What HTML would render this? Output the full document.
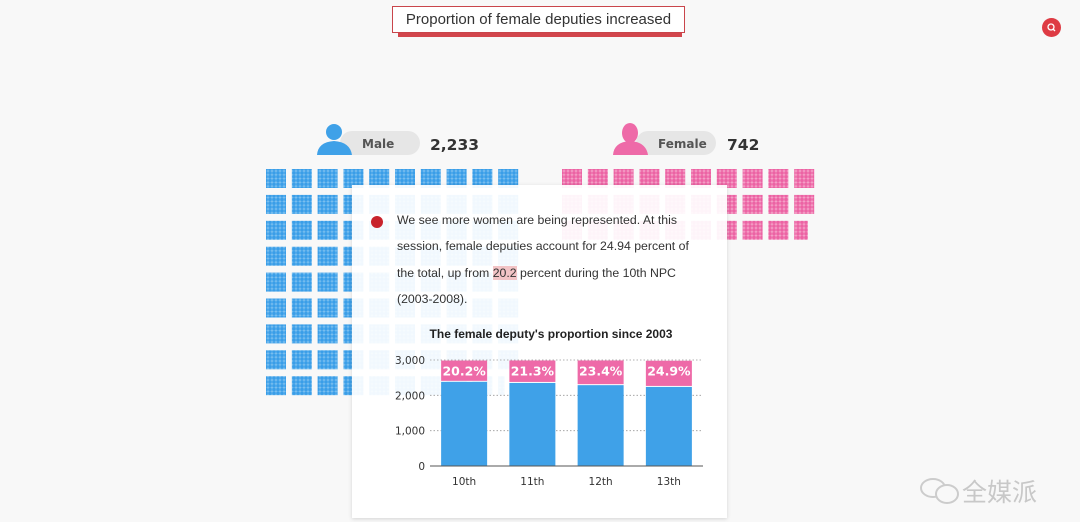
<!DOCTYPE html>
<html><head><meta charset="utf-8">
<style>
body{margin:0;width:1080px;height:522px;background:#f8f8f8;overflow:hidden;position:relative;font-family:"Liberation Sans",sans-serif;}
.abs{position:absolute}
</style></head>
<body>
<div class="abs" style="left:398px;top:31px;width:284px;height:6px;background:#d2464c"></div>
<div class="abs" style="left:392px;top:6px;width:293px;height:27px;border:1px solid #c9454b;background:#fff;box-sizing:border-box;font-size:15px;color:#333;text-align:center;line-height:26px">Proportion of female deputies increased</div>
<div class="abs" style="left:1042px;top:18px;width:19px;height:19px;border-radius:50%;background:#de3b44">
<svg width="19" height="19"><circle cx="9" cy="9" r="3" fill="none" stroke="#fff" stroke-width="1.3"/><line x1="11" y1="11" x2="13" y2="13" stroke="#fff" stroke-width="1.3"/></svg></div>

<svg class="abs" style="left:0;top:0" width="1080" height="522">
<defs>
<pattern id="pb" width="4" height="3.8" patternUnits="userSpaceOnUse"><rect width="4" height="3.8" fill="#7cc0f0"/><circle cx="2" cy="1.9" r="1.8" fill="#3a9ee8"/></pattern>
<pattern id="pp" width="4" height="3.8" patternUnits="userSpaceOnUse"><rect width="4" height="3.8" fill="#f5a3c8"/><circle cx="2" cy="1.9" r="1.8" fill="#ec63a4"/></pattern>
</defs>
<g>
<rect x="340" y="131" width="80" height="24" rx="12" fill="#e6e6e6"/>
<circle cx="334" cy="132" r="8" fill="#3fa1e8"/>
<path d="M317 155 Q318 142 334 141 Q350 142 352 155 Z" fill="#3fa1e8"/>
</g>
<text x="362" y="148" font-size="12" font-weight="bold" fill="#555" font-family="DejaVu Sans">Male</text>
<text x="430" y="150" font-size="15.5" font-weight="bold" fill="#333" font-family="DejaVu Sans">2,233</text>
<g>
<rect x="636" y="131" width="80" height="24" rx="12" fill="#e6e6e6"/>
<ellipse cx="630" cy="133" rx="8" ry="10" fill="#ee6aa8"/>
<path d="M613 155 Q614 142 630 141 Q646 142 648 155 Z" fill="#ee6aa8"/>
</g>
<text x="658" y="148" font-size="12" font-weight="bold" fill="#555" font-family="DejaVu Sans">Female</text>
<text x="727" y="150" font-size="15.5" font-weight="bold" fill="#333" font-family="DejaVu Sans">742</text>
<g id="waffle"></g>
</svg>

<div class="abs" style="left:352px;top:185px;width:375px;height:333px;background:rgba(255,255,255,0.93);box-shadow:0 1px 4px rgba(0,0,0,0.15)">
<div class="abs" style="left:19px;top:31px;width:12px;height:12px;border-radius:50%;background:#c8232c"></div>
<div class="abs" style="left:45px;top:22px;width:310px;font-size:12.3px;line-height:26.3px;color:#333">We see more women are being represented. At this session, female deputies account for 24.94 percent of the total, up from <span style="background:#f2c4c6">20.2</span> percent during the 10th NPC (2003-2008).</div>
</div>

<svg class="abs" style="left:0;top:0" width="1080" height="522">
<text x="551" y="338" font-size="12" font-weight="bold" text-anchor="middle" fill="#222">The female deputy's proportion since 2003</text>
<g id="chart"></g>
</svg>

<div class="abs" style="left:918px;top:470px;width:140px;height:36px;color:#c8c8c8;font-family:'Noto Sans CJK SC',sans-serif;font-size:25px;line-height:36px">
<svg width="44" height="34" style="vertical-align:middle"><ellipse cx="15" cy="14" rx="12" ry="9" fill="none" stroke="#ccc" stroke-width="2"/><ellipse cx="29" cy="20" rx="11" ry="9" fill="#f8f8f8" stroke="#ccc" stroke-width="2"/></svg><span style="vertical-align:middle">全媒派</span></div>

<script>
const NS='http://www.w3.org/2000/svg';
const maleCount=2233, femaleCount=742, perBlock=25;
const categories=['10th','11th','12th','13th'];
const totalSeats=[2985,2987,2987,2980];
const femalePct=[20.2,21.3,23.4,24.9];
const pctLabels=['20.2%','21.3%','23.4%','24.9%'];
const yTicks=[0,1000,2000,3000];
const yTickLabels=['0','1,000','2,000','3,000'];

function mk(t,a,p){const e=document.createElementNS(NS,t);for(const k in a)e.setAttribute(k,a[k]);p.appendChild(e);return e;}
const wg=document.getElementById('waffle');
function waffle(count,x0,fill,name){
  const n=count/perBlock;
  for(let i=0;i<Math.ceil(n);i++){
    const c=i%10,r=Math.floor(i/10);
    const frac=Math.min(1,n-i);
    const w=20*(frac<1?Math.max(0.3,frac):1);
    const el=mk('rect',{x:x0+c*25.8,y:169+r*25.9,width:w,height:19,fill:fill},wg);
    
    
  }
}
waffle(maleCount,266,'url(#pb)','male-block');
waffle(femaleCount,562,'url(#pp)','female-block');
const g=document.getElementById('chart');
const x0=430,x1=703,y0=466,yMax=3000,plotH=106;
const ys=v=>y0-v/yMax*plotH;
const band=(x1-x0)/categories.length;
const xs=i=>x0+band*(i+0.5);
yTicks.forEach((t,i)=>{
  if(t>0){const l=mk('line',{x1:x0,x2:x1,y1:ys(t),y2:ys(t),stroke:'#999','stroke-dasharray':'1.5,2','stroke-width':0.8},g);
  }
  const tx=mk('text',{x:x0-5,y:ys(t)+4,'font-size':10.5,'text-anchor':'end',fill:'#333','font-family':'DejaVu Sans'},g);
  tx.textContent=yTickLabels[i];
  
});
categories.forEach((c,i)=>{
  const bw=46,bx=xs(i)-bw/2;
  const tot=totalSeats[i],fem=tot*femalePct[i]/100,male=tot-fem;
  const m=mk('rect',{x:bx,y:ys(male),width:bw,height:y0-ys(male),fill:'#3fa1e8'},g);
  
  const f=mk('rect',{x:bx,y:ys(tot),width:bw,height:ys(male)-ys(tot)-1,fill:'#ee6aa8'},g);
  
  const pl=mk('text',{x:xs(i),y:ys(tot)+15,'font-size':12.5,'text-anchor':'middle',fill:'#fff','font-weight':'bold','font-family':'DejaVu Sans'},g);
  pl.textContent=pctLabels[i];
  
  const xl=mk('text',{x:xs(i),y:y0+19,'font-size':10.5,'text-anchor':'middle',fill:'#333','font-family':'DejaVu Sans'},g);
  xl.textContent=c;
  
});
const ax=mk('line',{x1:x0,x2:x1,y1:y0,y2:y0,stroke:'#555','stroke-width':1},g);

</script>
</body></html>
